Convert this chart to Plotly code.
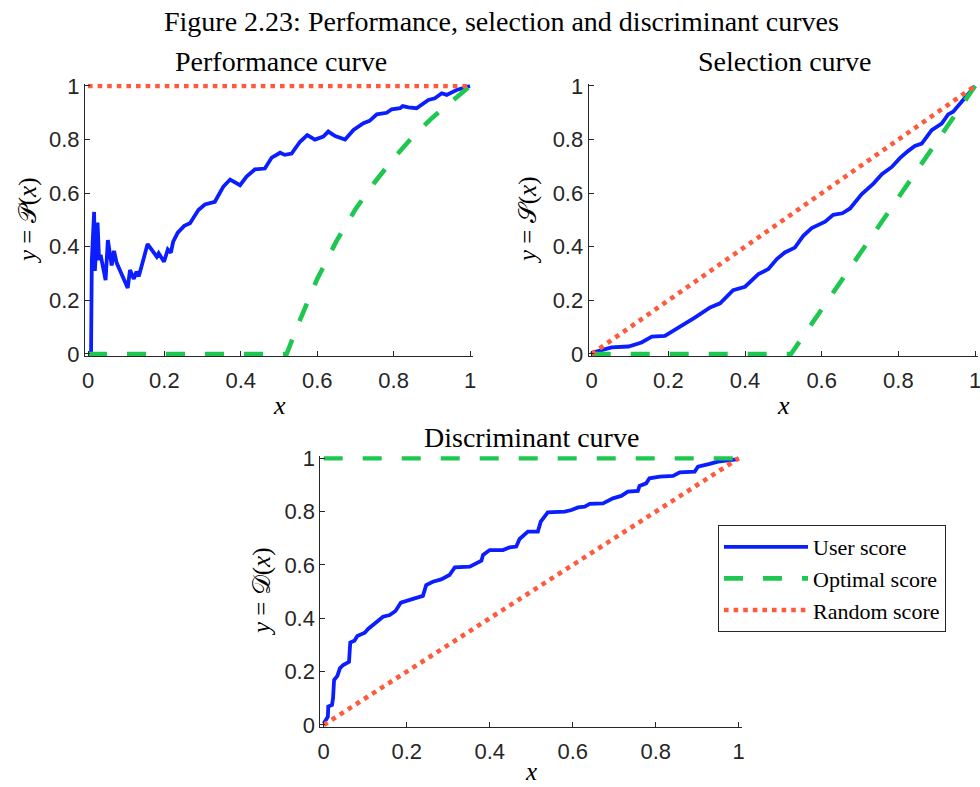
import plotly.graph_objects as go

# ---------------- data ----------------
perf_user_x = [0.008, 0.01, 0.016, 0.018, 0.025, 0.029, 0.033, 0.046, 0.052, 0.062, 0.068, 0.075,
               0.104, 0.11, 0.12, 0.127, 0.133, 0.145, 0.156, 0.18, 0.185, 0.199, 0.209, 0.217,
               0.223, 0.235, 0.252, 0.267, 0.276, 0.289, 0.306, 0.332, 0.354, 0.372, 0.398, 0.415,
               0.437, 0.463, 0.481, 0.503, 0.515, 0.533, 0.555, 0.574, 0.594, 0.616, 0.629, 0.647,
               0.673, 0.695, 0.721, 0.737, 0.756, 0.782, 0.795, 0.817, 0.824, 0.839, 0.86, 0.891,
               0.908, 0.926, 0.939, 0.965, 1.0]
perf_user_y = [0.0, 0.35, 0.53, 0.31, 0.49, 0.35, 0.37, 0.276, 0.425, 0.33, 0.385, 0.34,
               0.246, 0.313, 0.28, 0.307, 0.29, 0.358, 0.41, 0.363, 0.376, 0.344, 0.39, 0.378,
               0.419, 0.453, 0.478, 0.488, 0.506, 0.537, 0.558, 0.568, 0.624, 0.651, 0.63, 0.662,
               0.689, 0.692, 0.733, 0.751, 0.743, 0.748, 0.792, 0.817, 0.80, 0.811, 0.83, 0.813,
               0.80, 0.836, 0.861, 0.87, 0.894, 0.90, 0.913, 0.917, 0.925, 0.92, 0.917, 0.948,
               0.954, 0.973, 0.967, 0.985, 1.0]
perf_opt_x = [0.0, 0.52, 0.55, 0.6, 0.65, 0.7, 0.75, 0.8, 0.85, 0.9, 0.95, 1.0]
perf_opt_y = [0.0, 0.0, 0.11, 0.28, 0.42, 0.54, 0.64, 0.73, 0.81, 0.88, 0.94, 1.0]
perf_rand_x = [0.0, 1.0]
perf_rand_y = [1.0, 1.0]

sel_user_x = [0.0, 0.004, 0.052, 0.096, 0.13, 0.157, 0.191, 0.209, 0.235, 0.27, 0.309, 0.335,
              0.369, 0.40, 0.435, 0.461, 0.483, 0.504, 0.53, 0.552, 0.574, 0.609, 0.63, 0.654,
              0.674, 0.704, 0.735, 0.757, 0.783, 0.804, 0.826, 0.843, 0.861, 0.887, 0.913, 0.93,
              0.943, 0.974, 1.0]
sel_user_y = [0.0, 0.006, 0.025, 0.028, 0.043, 0.065, 0.068, 0.083, 0.105, 0.137, 0.174, 0.189,
              0.238, 0.251, 0.298, 0.317, 0.354, 0.379, 0.397, 0.441, 0.47, 0.494, 0.519, 0.525,
              0.543, 0.596, 0.636, 0.671, 0.698, 0.731, 0.758, 0.776, 0.785, 0.835, 0.86, 0.894,
              0.904, 0.956, 1.0]
sel_opt_x = [0.0, 0.52, 1.0]
sel_opt_y = [0.0, 0.0, 1.0]
sel_rand_x = [0.0, 1.0]
sel_rand_y = [0.0, 1.0]

disc_user_x = [0.0, 0.01, 0.011, 0.02, 0.0225, 0.025, 0.033, 0.039, 0.047, 0.061, 0.064, 0.074,
               0.081, 0.099, 0.107, 0.119, 0.131, 0.143, 0.159, 0.173, 0.186, 0.203, 0.219, 0.239,
               0.247, 0.263, 0.283, 0.303, 0.316, 0.352, 0.364, 0.38, 0.384, 0.40, 0.432, 0.448,
               0.464, 0.472, 0.492, 0.516, 0.523, 0.54, 0.581, 0.597, 0.613, 0.629, 0.641, 0.673,
               0.697, 0.717, 0.733, 0.757, 0.761, 0.777, 0.785, 0.81, 0.842, 0.858, 0.894, 0.902,
               0.93, 0.95, 0.994, 1.0]
disc_user_y = [0.006, 0.031, 0.069, 0.075, 0.10, 0.169, 0.184, 0.2125, 0.225, 0.237, 0.309, 0.316,
               0.334, 0.346, 0.36, 0.375, 0.394, 0.406, 0.4125, 0.4275, 0.459, 0.469, 0.475, 0.484,
               0.525, 0.537, 0.546, 0.5625, 0.591, 0.594, 0.604, 0.616, 0.6375, 0.656, 0.656, 0.666,
               0.669, 0.6975, 0.725, 0.725, 0.7625, 0.7975, 0.80, 0.806, 0.816, 0.819, 0.829, 0.831,
               0.85, 0.859, 0.875, 0.878, 0.896, 0.906, 0.925, 0.931, 0.934, 0.9475, 0.95, 0.969,
               0.979, 0.9875, 0.996, 1.0]
disc_opt_x = [0.0, 1.0]
disc_opt_y = [1.0, 1.0]
disc_rand_x = [0.0, 1.0]
disc_rand_y = [0.0, 1.0]

tick_vals = [0, 0.2, 0.4, 0.6, 0.8, 1]
tick_text = ["0", "0.2", "0.4", "0.6", "0.8", "1"]
series_names = ["User score", "Optimal score", "Random score"]

# ---------------- style ----------------
BLUE = "#0a1eff"
GREEN = "#1ec850"
RED = "#ff5a3c"
AX = "#262626"
SERIF = "Liberation Serif"
SANS = "Liberation Sans"

fig = go.Figure()

panels = [
    ("x", "y", perf_user_x, perf_user_y, perf_opt_x, perf_opt_y, perf_rand_x, perf_rand_y, False),
    ("x2", "y2", sel_user_x, sel_user_y, sel_opt_x, sel_opt_y, sel_rand_x, sel_rand_y, False),
    ("x3", "y3", disc_user_x, disc_user_y, disc_opt_x, disc_opt_y, disc_rand_x, disc_rand_y, True),
]
for xa, ya, ux, uy, ox, oy, rx, ry, leg in panels:
    fig.add_trace(go.Scatter(x=ux, y=uy, xaxis=xa, yaxis=ya, mode="lines", name=series_names[0],
                             line=dict(color=BLUE, width=3.8), showlegend=leg))
    fig.add_trace(go.Scatter(x=ox, y=oy, xaxis=xa, yaxis=ya, mode="lines", name=series_names[1],
                             line=dict(color=GREEN, width=4.6, dash="19px,20px"), showlegend=leg))
    fig.add_trace(go.Scatter(x=rx, y=ry, xaxis=xa, yaxis=ya, mode="lines", name=series_names[2],
                             line=dict(color=RED, width=4.6, dash="4.6px,5px"), showlegend=leg))

W, H = 980, 787
PAD = 0.008  # small data padding so lines at 0 and 1 are not half-clipped

def dx(a, b):
    s = (b - a)
    return [(a - PAD * s) / W, (b + PAD * s) / W]

def dy(top, bot):
    s = (bot - top)
    return [(H - bot - PAD * s) / H, (H - top + PAD * s) / H]

axis_common = dict(range=[-PAD, 1 + PAD], tickvals=tick_vals, ticktext=tick_text,
                   ticks="inside", ticklen=5, tickwidth=1, tickcolor=AX,
                   showline=True, linecolor=AX, linewidth=1, showgrid=False, zeroline=False,
                   tickfont=dict(family=SANS, size=22, color=AX), fixedrange=True,
                   automargin=False, ticklabeloverflow="allow")
xopts = dict(ticklabelstandoff=4)

fig.update_layout(
    xaxis=dict(domain=dx(88, 470), anchor="y", **axis_common, **xopts),
    yaxis=dict(domain=dy(86, 354), anchor="x", **axis_common),
    xaxis2=dict(domain=dx(591.7, 975), anchor="y2", **axis_common, **xopts),
    yaxis2=dict(domain=dy(86, 354), anchor="x2", **axis_common),
    xaxis3=dict(domain=dx(323.7, 738.7), anchor="y3", **axis_common, **xopts),
    yaxis3=dict(domain=dy(458.3, 725), anchor="x3", **axis_common),
)

annotations = [
    ("Figure 2.23: Performance, selection and discriminant curves", 501, 22, 0, 28, "middle"),
    ("Performance curve", 281, 62, 0, 28, "middle"),
    ("Selection curve", 784, 62, 0, 28, "middle"),
    ("Discriminant curve", 531, 437, 0, 28, "middle"),
    ("<i>x</i>", 279, 405, 0, 26, "middle"),
    ("<i>x</i>", 783, 405, 0, 26, "middle"),
    ("<i>x</i>", 531, 787, 0, 25, "bottom"),
    ("<i>y</i> = 𝒫(<i>x</i>)", 28, 221, -90, 25, "middle"),
    ("<i>y</i> = 𝒮(<i>x</i>)", 528, 221, -90, 25, "middle"),
    ("<i>y</i> = 𝒟(<i>x</i>)", 262, 592, -90, 25, "middle"),
]
for text, px, py, ang, size, yanc in annotations:
    fig.add_annotation(text=text, x=px / W, y=(H - py) / H, xref="paper", yref="paper",
                       showarrow=False, textangle=ang, xanchor="center", yanchor=yanc,
                       font=dict(family=SERIF, size=size, color="black"))

fig.update_layout(
    width=W, height=H,
    margin=dict(l=0, r=0, t=0, b=0, autoexpand=False),
    paper_bgcolor="white", plot_bgcolor="white",
    showlegend=True,
    legend=dict(x=718 / W, y=(H - 525) / H, xanchor="left", yanchor="top",
                xref="paper", yref="paper",
                bgcolor="white", bordercolor=AX, borderwidth=1,
                font=dict(family=SERIF, size=22, color="black"),
                itemwidth=84, tracegroupgap=0),
)

fig.write_html("out.html", config={"displayModeBar": False},
               post_script="document.body.style.margin='0';document.body.style.overflow='hidden';")
